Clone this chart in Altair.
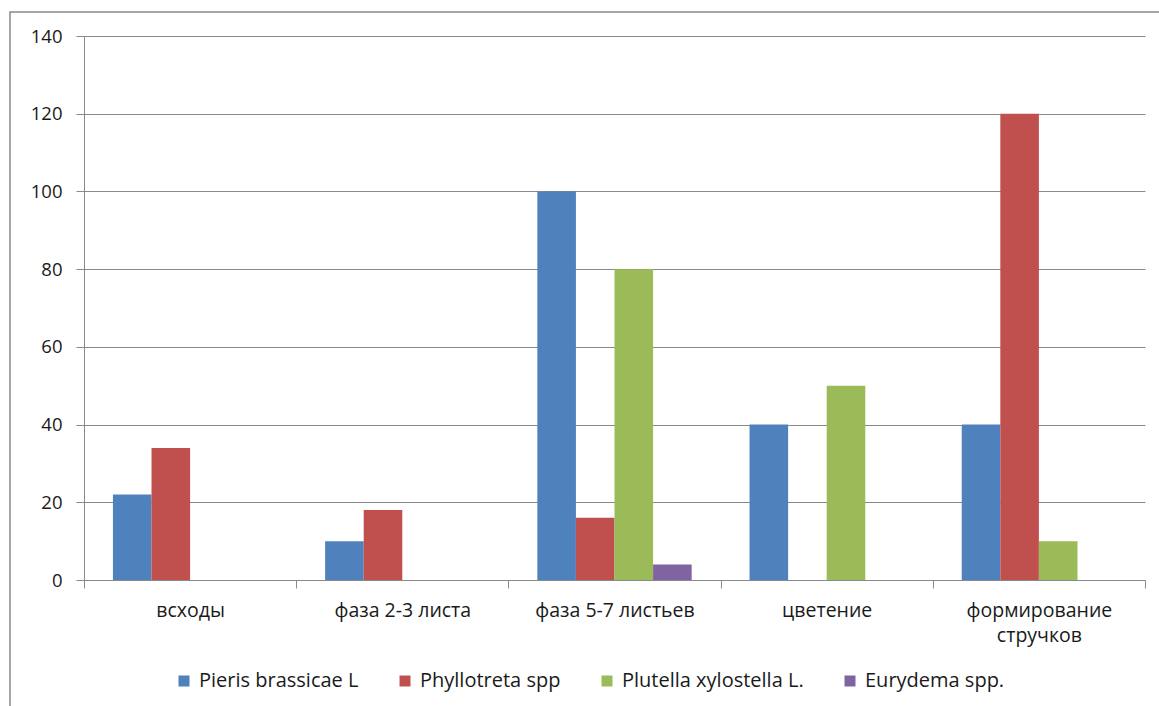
import altair as alt
import pandas as pd

categories = ["всходы", "фаза 2-3 листа", "фаза 5-7 листьев", "цветение", "формирование|стручков"]
series = ["Pieris brassicae L", "Phyllotreta spp", "Plutella xylostella L.", "Eurydema spp."]
colors = ["#4F81BD", "#C0504D", "#9BBB59", "#8064A2"]

pieris = [22, 10, 100, 40, 40]
phyllotreta = [34, 18, 16, 0, 120]
plutella = [0, 0, 80, 50, 10]
eurydema = [0, 0, 4, 0, 0]
y_ticks = [0, 20, 40, 60, 80, 100, 120, 140]

rows = []
for s, vals in zip(series, [pieris, phyllotreta, plutella, eurydema]):
    for c, v in zip(categories, vals):
        rows.append({"cat": c, "series": s, "value": v})
df = pd.DataFrame(rows)

W, H = 1061, 544
FONT = "Open Sans"
GRAY = "#898989"

bars = alt.Chart(df).mark_bar().encode(
    x=alt.X("cat:N", sort=categories,
            scale=alt.Scale(paddingInner=0, paddingOuter=0),
            axis=alt.Axis(title=None, labelAngle=0, tickBand="extent", ticks=True,
                          tickSize=8, tickColor=GRAY, domainColor=GRAY, grid=False,
                          labelExpr="split(datum.label, '|')", labelPadding=13,
                          labelFontSize=19.5, labelColor="#1a1a1a", labelFont=FONT,
                          labelLineHeight=25)),
    xOffset=alt.XOffset("series:N", sort=series,
                        scale=alt.Scale(paddingInner=0, paddingOuter=0.75)),
    y=alt.Y("value:Q", scale=alt.Scale(domain=[0, 140], nice=False),
            axis=alt.Axis(title=None, values=y_ticks, tickSize=8, tickColor=GRAY,
                          domainColor=GRAY, gridColor=GRAY, gridWidth=1,
                          labelPadding=14, labelFontSize=18.5, labelColor="#1a1a1a",
                          labelFont=FONT)),
    color=alt.Color("series:N", sort=series,
                    scale=alt.Scale(domain=series, range=colors),
                    legend=alt.Legend(title=None, orient="none", direction="horizontal",
                                      legendX=90, legendY=635, columns=4,
                                      symbolType="square", symbolSize=121,
                                      symbolStrokeWidth=0, columnPadding=36,
                                      labelFontSize=20, labelFont=FONT, labelLimit=400,
                                      labelColor="#1a1a1a", labelOffset=5, padding=0)),
)

border = alt.Chart(pd.DataFrame({"a": [0]})).mark_rect(
    filled=False, stroke=GRAY, strokeWidth=1.5, clip=False
).encode(x=alt.value(-74), x2=alt.value(1100), y=alt.value(-24), y2=alt.value(720))

chart = alt.layer(border, bars).properties(
    width=W, height=H,
    autosize=alt.AutoSizeParams(type="none"),
    padding={"left": 84, "top": 36, "right": 14, "bottom": 126},
    background="white",
).configure_view(stroke=None)

chart.save("out.html", embed_options={"renderer": "svg", "actions": False})
